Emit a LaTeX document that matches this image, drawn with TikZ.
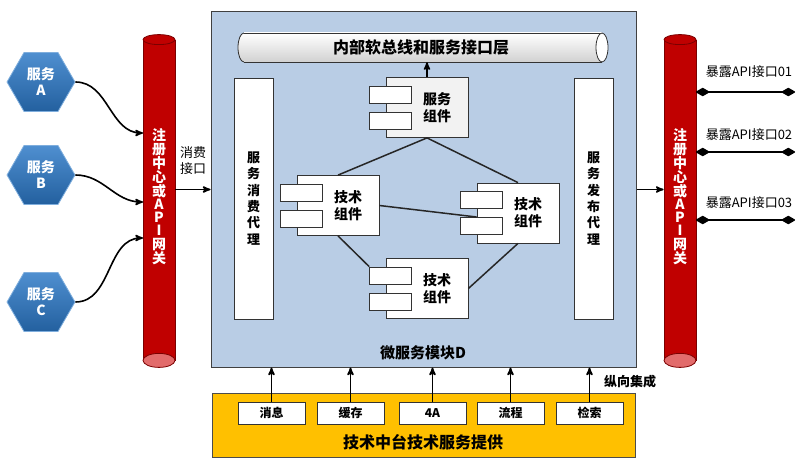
\documentclass[tikz,border=0pt]{standalone}
\usepackage{fontspec}
\setmainfont{Noto Sans CJK SC}
\usetikzlibrary{calc,arrows,shapes.geometric}
\definecolor{boxblue}{HTML}{B9CDE5}
\definecolor{gwred}{HTML}{C00000}
\definecolor{gwdark}{HTML}{7A0000}
\definecolor{gwend}{HTML}{E26B6B}
\definecolor{hextop}{HTML}{4F8FD0}
\definecolor{hexbot}{HTML}{23609F}
\definecolor{hexedge}{HTML}{7FAEDD}
\definecolor{techgold}{HTML}{FFC000}
\tikzset{
    module/.style={draw=black!75,fill=boxblue,line width=1pt},
    gateway/.style={fill=gwred,draw=gwdark,line width=0.8pt},
    gwtext/.style={text=white,font=\bfseries\fontsize{14}{14}\selectfont,align=center},
    service/.style={regular polygon,regular polygon sides=6,minimum size=68,inner sep=0pt,
        draw=hexedge,line width=0.8pt,top color=hextop,bottom color=hexbot,
        text=white,font=\bfseries\fontsize{14}{16}\selectfont,align=center},
    proxy/.style={draw=black!80,fill=white,minimum width=39,minimum height=241,line width=0.8pt,
        align=center,font=\bfseries\fontsize{13}{16.3}\selectfont},
    comp/.style={draw=black!80,fill=white,minimum width=82,minimum height=60,line width=0.8pt},
    port/.style={draw=black!80,fill=white,minimum width=42,minimum height=17,inner sep=0pt,line width=0.8pt},
    comptext/.style={font=\bfseries\fontsize{14}{17}\selectfont,align=center},
    link/.style={black!85,line width=1.5pt},
    feed/.style={->,>=stealth',black,line width=1.6pt},
    expose/.style={diamond-diamond,black,line width=1.6pt},
    explabel/.style={font=\fontsize{13}{13}\selectfont,inner sep=0pt},
    tool/.style={draw=black!80,fill=white,minimum width=67,minimum height=22,inner sep=0pt,
        line width=0.8pt,font=\bfseries\fontsize{12}{12}\selectfont}
}

\begin{document}
\begin{tikzpicture}[x=1pt,y=-1pt]
\useasboundingbox (0,0) rectangle (803,468);

% microservice module
\node[module,minimum width=425,minimum height=355] (micro) at (423.5,189.5) {};
\node[font=\bfseries\fontsize{15}{15}\selectfont] (microlbl) at (423,353) {微服务模块D};

% internal bus
\fill[top color=white,bottom color=black!18] (244,47.5) ellipse [x radius=6,y radius=14.5];
\draw[black!80,line width=0.8pt] (244,47.5) ellipse [x radius=6,y radius=14.5];
\fill[top color=white,bottom color=black!18] (244,33) rectangle (602,62);
\draw[black!80,line width=0.8pt] (244,33) -- (602,33) (244,62) -- (602,62);
\draw[black!80,fill=white,line width=0.8pt] (602,47.5) ellipse [x radius=6,y radius=14.5];
\node[minimum width=364,minimum height=29,inner sep=0pt,
      font=\bfseries\fontsize{16}{16}\selectfont] (bus) at (421,47.5) {内部软总线和服务接口层};

% proxies
\node[proxy] (consumer) at (253.5,198.5) {服\\务\\消\\费\\代\\理};
\node[proxy] (publisher) at (593.5,198.5) {服\\务\\发\\布\\代\\理};

% components
\node[comp,fill=black!5] (svc) at (427,107.5) {};
\node[port] (svcp1) at ([xshift=5,yshift=13]svc.west) {};
\node[port] (svcp2) at ([xshift=5,yshift=-13]svc.west) {};
\node[comptext] (svctxt) at ([xshift=10]svc.center) {服务\\组件};

\node[comp] (techL) at (338,205.5) {};
\node[port] (techLp1) at ([xshift=5,yshift=13]techL.west) {};
\node[port] (techLp2) at ([xshift=5,yshift=-13]techL.west) {};
\node[comptext] (techLtxt) at ([xshift=10]techL.center) {技术\\组件};

\node[comp] (techR) at (518,213) {};
\node[port] (techRp1) at ([xshift=4.5,yshift=13]techR.west) {};
\node[port] (techRp2) at ([xshift=4.5,yshift=-13]techR.west) {};
\node[comptext] (techRtxt) at ([xshift=10]techR.center) {技术\\组件};

\node[comp] (techB) at (427,288.5) {};
\node[port] (techBp1) at ([xshift=5,yshift=13]techB.west) {};
\node[port] (techBp2) at ([xshift=5,yshift=-13]techB.west) {};
\node[comptext] (techBtxt) at ([xshift=10]techB.center) {技术\\组件};

\draw[link] (svc.south) -- (techL.north);
\draw[link] (svc.south) -- (techR.north);
\draw[link] (techL.east) -- ([yshift=-4]techR.west);
\draw[link] (techL.south) -- (techBp1.north west);
\draw[link] (techR.south) -- (techB.east);
\draw[feed] (svc.north) -- (svc.north |- bus.south);

% gateways
\node[gateway,minimum width=32,minimum height=320,inner sep=0pt] (regL) at (159,200) {};
\draw[gateway] (regL.north) ellipse [x radius=16,y radius=5];
\draw[gateway,fill=gwend] (regL.south) ellipse [x radius=16,y radius=7];
\node[gwtext] (regLtxt) at (159,197) {注\\册\\中\\心\\或\\[-1pt]A\\[-1pt]P\\[-1pt]I\\网\\关};

\node[gateway,minimum width=32,minimum height=320,inner sep=0pt] (regR) at (680,200) {};
\draw[gateway] (regR.north) ellipse [x radius=16,y radius=5];
\draw[gateway,fill=gwend] (regR.south) ellipse [x radius=16,y radius=7];
\node[gwtext] (regRtxt) at (680,197) {注\\册\\中\\心\\或\\[-1pt]A\\[-1pt]P\\[-1pt]I\\网\\关};

% services
\node[service] (svcA) at (41,82) {服务\\A};
\node[service] (svcB) at (41,175) {服务\\B};
\node[service] (svcC) at (41,302) {服务\\C};
\coordinate (inA) at (143,133);
\coordinate (inB) at (143,202);
\coordinate (inC) at (143,238);
\draw[feed] (svcA.east) to[out=0,in=180] (inA);
\draw[feed] (svcB.east) to[out=0,in=180] (inB);
\draw[feed] (svcC.east) to[out=0,in=180] (inC);

\draw[feed] (regL.east |- micro.west) -- (micro.west);
\node[font=\fontsize{13}{16}\selectfont,align=left,inner sep=0pt] (consume) at (193,161) {消费\\接口};
\draw[feed] (micro.east) -- (regR.west |- micro.east);

% exposed APIs
\coordinate (ex1a) at (696,92);  \coordinate (ex1b) at (795,92);
\coordinate (ex2a) at (696,152); \coordinate (ex2b) at (795,152);
\coordinate (ex3a) at (696,220); \coordinate (ex3b) at (795,220);
\draw[expose] (ex1a) -- (ex1b);
\draw[expose] (ex2a) -- (ex2b);
\draw[expose] (ex3a) -- (ex3b);
\node[explabel] (exl1) at (749,72) {暴露API接口01};
\node[explabel] (exl2) at (749,135) {暴露API接口02};
\node[explabel] (exl3) at (749,203) {暴露API接口03};

% technical platform
\node[draw=black!70,fill=techgold,minimum width=423,minimum height=64,line width=1pt] (platform) at (423.5,425) {};
\node[font=\bfseries\fontsize{16}{16}\selectfont] (platlbl) at (423,442) {技术中台技术服务提供};
\foreach \name/\txt/\x in {msg/消息/271.5,cache/缓存/350.5,auth/4A/432.5,flow/流程/510.5,search/检索/589.5}{
  \node[tool] (\name) at (\x,413) {\txt};
  \draw[feed] (\name.north) -- (\name.north |- micro.south);
}
\node[font=\bfseries\fontsize{13}{13}\selectfont] (vert) at (630,382) {纵向集成};

\end{tikzpicture}
\end{document}
